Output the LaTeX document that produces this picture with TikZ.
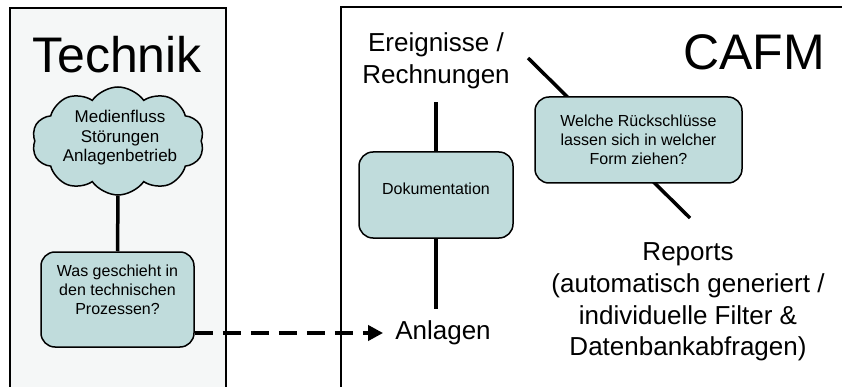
\documentclass[tikz,border=0pt]{standalone}
\usepackage{fontspec}
\setmainfont{Liberation Sans}
\usepackage{tikz}
\usetikzlibrary{positioning,arrows.meta,calc,shapes.symbols}
\definecolor{boxteal}{HTML}{C0DCDC}
\definecolor{panelgray}{HTML}{F5F7F7}
\tikzset{
    every node/.style={font=\fontsize{16}{18.8}\selectfont},
    panel/.style={draw=black,line width=2pt},
    bigtitle/.style={font=\fontsize{50}{60}\selectfont,inner sep=0pt},
    bigtext/.style={font=\fontsize{26}{31.6}\selectfont,align=center},
    qbox/.style={rectangle,rounded corners=14pt,draw=black,line width=1.5pt,fill=boxteal,align=center,inner sep=4pt},
    wolke/.style={cloud,cloud puffs=10,cloud puff arc=110,cloud ignores aspect,draw=black,line width=1.5pt,fill=boxteal,
        minimum width=172pt,minimum height=108pt,inner sep=0pt},
    link/.style={draw,line width=3.5pt},
    flow/.style={draw,line width=4.5pt,dash pattern=on 18pt off 10pt,-{Triangle[length=15pt,width=15pt]}}
}
\begin{document}
\begin{tikzpicture}[x=1pt,y=-1pt]
\useasboundingbox (0,0) rectangle (842,387);
% Hintergrund
\draw[panel,fill=panelgray] (10,8) rectangle (226,420);
\draw[panel,fill=white] (341,7) rectangle (900,420);

% Technik
\node[bigtitle] (technik) at (117,55) {Technik};
\node[wolke] (medien) at (118,141) {};
\node[align=center,font=\fontsize{17}{19.6}\selectfont] (medientext) at (120,138)
    {Medienfluss\\St\"orungen\\Anlagenbetrieb};
\node[qbox,minimum width=153pt,minimum height=95pt,text depth=20pt] (prozess) at (117.5,299.5)
    {Was geschieht in\\den technischen\\Prozessen?};
\draw[link] (medien.south) -- (prozess.north);

% CAFM
\node[bigtitle] (cafm) at (754,52) {CAFM};
\node[bigtext,inner ysep=13pt] (ereignis) at (436,61) {Ereignisse /\\Rechnungen};
\node[qbox,minimum width=154pt,minimum height=86pt,text depth=12pt] (doku) at (436,195) {Dokumentation};
\node[bigtext,inner xsep=12pt,inner ysep=12pt] (anlagen) at (443,333) {Anlagen};
\node[bigtext] (reports) at (688,302)
    {Reports\\(automatisch generiert /\\individuelle Filter \&\\Datenbankabfragen)};
\coordinate (schluss1) at (528,58);
\coordinate (schluss2) at (690,218);
\draw[link] (schluss1) -- (schluss2);
\node[qbox,minimum width=207pt,minimum height=86pt] (rueck) at (638.5,140)
    {Welche R\"uckschl\"usse\\lassen sich in welcher\\Form ziehen?};
\draw[link] (ereignis.south) -- (doku.north);
\draw[link] (doku.south) -- (anlagen.north -| doku.south);

% Technik -> CAFM
\draw[flow] (anlagen.west -| prozess.east) -- (anlagen.west);
\end{tikzpicture}
\end{document}
